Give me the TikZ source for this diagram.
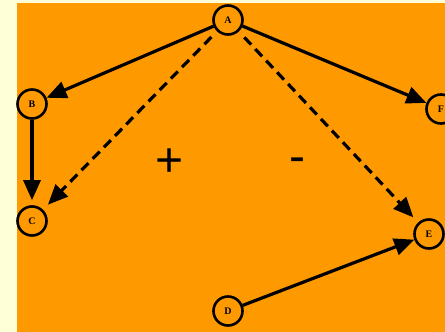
\documentclass[tikz,border=0pt]{standalone}
\usepackage{fontspec}
\setmainfont{Liberation Serif}
\newfontfamily\signfont{Liberation Sans}
\usepackage{tikz}
\usetikzlibrary{arrows.meta, positioning}
\definecolor{paleyellow}{RGB}{255,255,215}
\definecolor{graphorange}{RGB}{255,153,0}

\begin{document}
\begin{tikzpicture}[
    x=1pt, y=-1pt,
    every node/.style={font=\fontsize{10}{10}\selectfont\bfseries},
    vertex/.style={circle, draw, line width=2.6pt, minimum size=29pt, inner sep=0pt},
    link/.style={-{Triangle[length=20pt, width=17pt]}, line width=3.2pt},
    hint/.style={link, dash pattern=on 10pt off 6pt, shorten >=7pt, shorten <=8pt},
    sign/.style={font=\signfont\fontsize{48}{48}\selectfont},
]
  % Background
  \fill[paleyellow] (0,0) rectangle (445,332);
  \fill[graphorange] (17,3) rectangle (445,332);
  \useasboundingbox (0,0) rectangle (445,332);

  % Vertices
  \node[vertex] (a) at (228,20) {A};
  \node[vertex] (b) at (32,104) {B};
  \node[vertex] (c) at (32,221) {C};
  \node[vertex] (d) at (228,311) {D};
  \node[vertex] (e) at (429,234) {E};
  \node[vertex] (f) at (441,109) {F};

  % Signs
  \node[sign] (plus) at (170,163) {+};
  \node[sign] (minus) at (297,165) {-};

  % Links
  \draw[link] (a) -- (b);
  \draw[link] (a) -- (f);
  \draw[link, shorten >=5pt] (b) -- (c);
  \draw[link] (d) -- (e);
  \draw[hint] (a) -- (c);
  \draw[hint] (a) -- (e);
\end{tikzpicture}
\end{document}
